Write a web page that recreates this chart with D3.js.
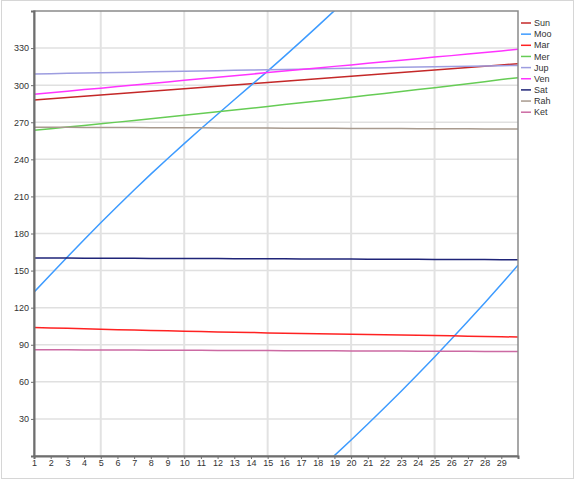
<!DOCTYPE html>
<html>
<head>
<meta charset="utf-8">
<script src="https://cdn.jsdelivr.net/npm/d3@7"></script>
<style>
  html, body { margin: 0; padding: 0; background: #fff; }
  svg { display: block; }
  text { font-family: "Liberation Sans", Arial, sans-serif; }
</style>
</head>
<body>
<svg id="chart" width="575" height="480"></svg>
<script>
// ---- data ----
const days = d3.range(1, 31);
const xTicks = d3.range(1, 30);
const yTicks = [30, 60, 90, 120, 150, 180, 210, 240, 270, 300, 330];
const names = ["Sun", "Moo", "Mar", "Mer", "Jup", "Ven", "Sat", "Rah", "Ket"];
const colors = ["#c42828", "#3d9bff", "#ff2222", "#66cc55", "#9d9de0", "#ff33ff", "#1f2478", "#a89a8e", "#cc6aa3"];

const sun = [288.0,289.0,290.0,291.0,292.1,293.1,294.1,295.1,296.1,297.1,298.1,299.1,300.2,301.2,302.2,303.2,304.2,305.2,306.2,307.2,308.3,309.3,310.3,311.3,312.3,313.3,314.3,315.3,316.4,317.4];
const moo = [132.5,146.8,161.0,175.0,188.7,202.1,215.2,228.0,240.5,252.7,264.7,276.5,288.2,299.8,311.4,323.3,335.4,347.8,0.3,13.0,25.9,39.0,52.4,66.1,80.1,94.4,109.0,123.8,138.9,154.4];
const mar = [104.0,103.6,103.3,102.9,102.6,102.2,101.9,101.6,101.3,101.0,100.7,100.4,100.1,99.9,99.6,99.4,99.1,98.9,98.7,98.4,98.2,98.0,97.8,97.6,97.4,97.2,96.9,96.7,96.5,96.2];
const mer = [263.5,264.8,266.1,267.4,268.8,270.1,271.5,272.9,274.2,275.6,277.0,278.5,279.9,281.3,282.8,284.3,285.7,287.2,288.7,290.3,291.8,293.3,294.9,296.4,298.0,299.6,301.2,302.8,304.5,306.1];
const jup = [309.1,309.3,309.6,309.8,310.1,310.3,310.5,310.8,311.0,311.3,311.5,311.7,312.0,312.2,312.5,312.7,312.9,313.2,313.4,313.6,313.9,314.1,314.4,314.6,314.8,315.1,315.3,315.6,315.8,316.0];
const ven = [292.6,293.9,295.1,296.4,297.6,298.9,300.1,301.4,302.6,303.9,305.1,306.4,307.7,308.9,310.2,311.4,312.7,313.9,315.2,316.4,317.7,318.9,320.2,321.4,322.7,323.9,325.2,326.4,327.7,329.0];
const sat = [160.2,160.1,160.1,160.0,160.0,159.9,159.9,159.8,159.8,159.8,159.7,159.7,159.6,159.6,159.5,159.5,159.4,159.4,159.3,159.3,159.2,159.2,159.1,159.1,159.0,159.0,158.9,158.9,158.8,158.8];
const rah = [266.0,266.0,265.9,265.8,265.8,265.7,265.7,265.6,265.6,265.5,265.5,265.4,265.4,265.3,265.3,265.2,265.2,265.1,265.1,265.0,265.0,264.9,264.9,264.8,264.8,264.7,264.7,264.6,264.6,264.5];
const ket = [86.0,86.0,85.9,85.8,85.8,85.7,85.7,85.6,85.6,85.5,85.5,85.4,85.4,85.3,85.3,85.2,85.2,85.1,85.1,85.0,85.0,84.9,84.9,84.8,84.8,84.7,84.7,84.6,84.6,84.5];
const seriesValues = [sun, moo, mar, mer, jup, ven, sat, rah, ket];

// ---- layout ----
const svg = d3.select("#chart");
const W = 575, H = 480;
const m = { left: 34, top: 11, right: 518, bottom: 456 };

svg.append("rect").attr("x", 1.5).attr("y", 0.5).attr("width", W - 3).attr("height", H - 2)
  .attr("fill", "#fff").attr("stroke", "#d6d6d6").attr("stroke-width", 1);

const x = d3.scaleLinear().domain([1, 30]).range([m.left, m.right]);
const y = d3.scaleLinear().domain([0, 360]).range([m.bottom, m.top]);

// grid
const grid = svg.append("g");
grid.selectAll("line.h").data(yTicks).join("line")
  .attr("x1", m.left).attr("x2", m.right)
  .attr("y1", d => y(d)).attr("y2", d => y(d))
  .attr("stroke", "#e0e0e0").attr("stroke-width", 1.5);
grid.selectAll("line.v").data([5, 10, 15, 20, 25]).join("line")
  .attr("y1", m.top).attr("y2", m.bottom)
  .attr("x1", d => x(d)).attr("x2", d => x(d))
  .attr("stroke", "#e2e2e2").attr("stroke-width", 2);

// clip
svg.append("clipPath").attr("id", "clip").append("rect")
  .attr("x", m.left).attr("y", m.top).attr("width", m.right - m.left).attr("height", m.bottom - m.top);

const line = d3.line().x(d => x(d.d)).y(d => y(d.v));
const plot = svg.append("g").attr("clip-path", "url(#clip)");

seriesValues.forEach((vals, i) => {
  // unwrap longitudes so lines cross 360/0 cleanly
  const un = [];
  let off = 0;
  vals.forEach((v, k) => {
    if (k > 0 && v + off - un[k - 1].v < -180) off += 360;
    if (k > 0 && v + off - un[k - 1].v > 180) off -= 360;
    un.push({ d: days[k], v: v + off });
  });
  [0, -360].forEach(shift => {
    plot.append("path")
      .datum(un.map(p => ({ d: p.d, v: p.v + shift })))
      .attr("d", line)
      .attr("fill", "none")
      .attr("stroke", colors[i])
      .attr("stroke-width", 1.5);
  });
});

// frame
svg.append("rect").attr("x", m.left).attr("y", m.top)
  .attr("width", m.right - m.left).attr("height", m.bottom - m.top)
  .attr("fill", "none").attr("stroke", "#8a8a8a").attr("stroke-width", 1.5);

// axes
const yAxis = d3.axisLeft(y).tickValues(yTicks).tickSize(3).tickPadding(2);
const xAxis = d3.axisBottom(x).tickValues(xTicks).tickSize(3).tickPadding(1);

const gy = svg.append("g").attr("transform", `translate(${m.left},0)`).call(yAxis);
const gx = svg.append("g").attr("transform", `translate(0,${m.bottom})`).call(xAxis);
[gy, gx].forEach(g => {
  g.select(".domain").attr("stroke", "#6e6e6e").attr("stroke-width", 2);
  g.selectAll(".tick line").attr("stroke", "#6e6e6e");
  g.selectAll(".tick text").attr("fill", "#333").style("font-size", "9px")
    .style("font-family", "'Liberation Sans', Arial, sans-serif");
});

// legend
const lg = svg.append("g");
names.forEach((n, i) => {
  const yy = 23 + i * 11.15;
  lg.append("line").attr("x1", 521).attr("x2", 531).attr("y1", yy).attr("y2", yy)
    .attr("stroke", colors[i]).attr("stroke-width", 1.5);
  lg.append("text").attr("x", 534).attr("y", yy).attr("dy", "0.35em")
    .attr("fill", "#333").style("font-size", "9px").text(n);
});
</script>
</body>
</html>
